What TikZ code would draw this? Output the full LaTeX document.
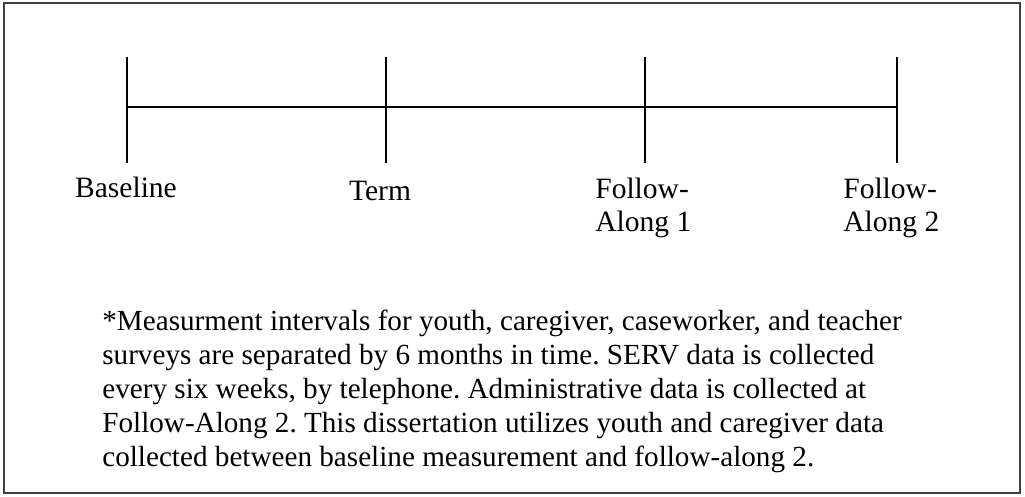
\documentclass[tikz,border=0pt]{standalone}
\usepackage{fontspec}
\setmainfont{Liberation Serif}
\frenchspacing

\begin{document}
\begin{tikzpicture}[x=0.02cm, y=-0.02cm,
    frame/.style={draw=black!75, line width=1.2pt},
    tick/.style={line width=1pt},
    lbl/.style={inner sep=0pt, align=left, font=\fontsize{16.8}{18.7}\selectfont},
    note/.style={inner sep=0pt, align=left, font=\fontsize{16.6}{19.3}\selectfont}]
    \useasboundingbox (0,0) rectangle (1025,497);

    % Draw the frame
    \draw[frame] (4,3) rectangle (1020,493);

    % Draw the line
    \draw[tick] (127,107) -- (897,107);

    % Draw ticks
    \foreach \x/\name in {127/base,386/term,645/fone,897/ftwo}
        \draw[tick] (\x,57) coordinate (\name top) -- (\x,163) coordinate (\name bot);

    % Add labels under the ticks
    \node[lbl, anchor=base] (baseline) at (126,197) {Baseline};
    \node[lbl, anchor=base] (term) at (380,200) {Term};
    \node[lbl, anchor=north west] (followone) at (595,178) {Follow-\\Along 1};
    \node[lbl, anchor=north west] (followtwo) at (843,178) {Follow-\\Along 2};

    % Note under the line
    \node[note, anchor=north west] (notes) at (102,310) {*Measurment intervals for youth, caregiver, caseworker, and teacher\\
        surveys are separated by 6 months in time. SERV data is collected\\
        every six weeks, by telephone. Administrative data is collected at\\
        Follow-Along 2. This dissertation utilizes youth and caregiver data\\
        collected between baseline measurement and follow-along 2.};
\end{tikzpicture}
\end{document}
